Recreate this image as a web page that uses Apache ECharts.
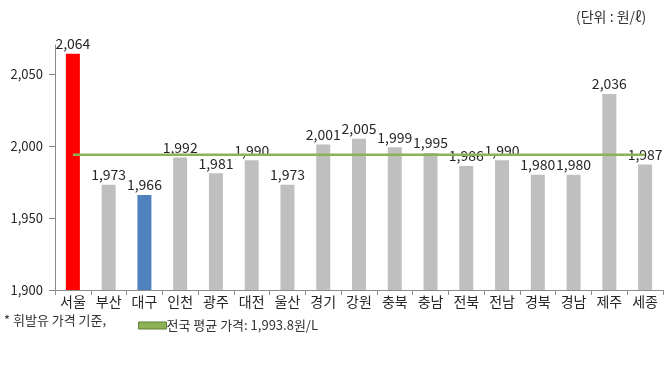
<!DOCTYPE html>
<html><head><meta charset="utf-8">
<script src="https://cdn.jsdelivr.net/npm/echarts@6/dist/echarts.min.js"></script>
<style>html,body{margin:0;padding:0;background:#fff}#c{width:672px;height:365px}</style>
</head><body><div id="c"></div>
<script>
const categories = ['서울','부산','대구','인천','광주','대전','울산','경기','강원','충북','충남','전북','전남','경북','경남','제주','세종'];
const prices = [2064,1973,1966,1992,1981,1990,1973,2001,2005,1999,1995,1986,1990,1980,1980,2036,1987];
const barColors = ['#FF0000','#BFBFBF','#4F81BD','#BFBFBF','#BFBFBF','#BFBFBF','#BFBFBF','#BFBFBF','#BFBFBF','#BFBFBF','#BFBFBF','#BFBFBF','#BFBFBF','#BFBFBF','#BFBFBF','#BFBFBF','#BFBFBF'];
const nationalAvg = 1993.8;
const avgName = '전국 평균 가격: 1,993.8원/L';
const yTicks = [1900,1950,2000,2050];
const fontKR = '"Noto Sans CJK KR", "Noto Sans", sans-serif';

const chart = echarts.init(document.getElementById('c'));
chart.setOption({
  animation:false,
  textStyle:{fontFamily:fontKR},
  grid:{left:55,right:9,top:45,bottom:75},
  legend:{
    left:133, top:314, itemWidth:28, itemHeight:7, itemGap:0,
    data:[{name:avgName, icon:'rect', itemStyle:{color:'#8DB255', borderColor:'#5E7F35', borderWidth:1}}],
    textStyle:{fontSize:13, color:'#333', fontFamily:fontKR, padding:[0,0,0,-5]}
  },
  xAxis:{
    type:'category', data:categories,
    axisLine:{lineStyle:{color:'#8C8C8C'}},
    axisTick:{show:true, length:5, lineStyle:{color:'#8C8C8C'}},
    axisLabel:{fontSize:14, color:'#262626', margin:5, interval:0}
  },
  yAxis:{
    type:'value', min:1900, max:2070, interval:50,
    splitLine:{show:false},
    axisLine:{show:true, lineStyle:{color:'#8C8C8C'}},
    axisTick:{show:true, length:6, customValues:yTicks, lineStyle:{color:'#8C8C8C'}},
    axisLabel:{fontSize:13, color:'#262626', margin:12, customValues:yTicks,
      formatter:v=>v.toLocaleString('en-US')}
  },
  graphic:[
    {type:'text', left:576, top:10, style:{text:'(단위 : 원/ℓ)', font:'14px '+fontKR, fill:'#333'}},
    {type:'text', left:4, top:314, style:{text:'* 휘발유 가격 기준,', font:'13px '+fontKR, fill:'#333'}}
  ],
  series:[
    {
      type:'bar', barWidth:14, z:2,
      data:prices.map((v,i)=>({value:v, itemStyle:{color:barColors[i]}})),
      label:{show:true, position:'top', distance:3, fontSize:14, color:'#262626',
        formatter:p=>p.value.toLocaleString('en-US')}
    },
    {
      type:'line', name:avgName, z:3, symbol:'none',
      data:categories.map(()=>nationalAvg),
      lineStyle:{color:'#8DB255', width:2.5},
      itemStyle:{color:'#8DB255'}
    }
  ]
});
</script></body></html>
